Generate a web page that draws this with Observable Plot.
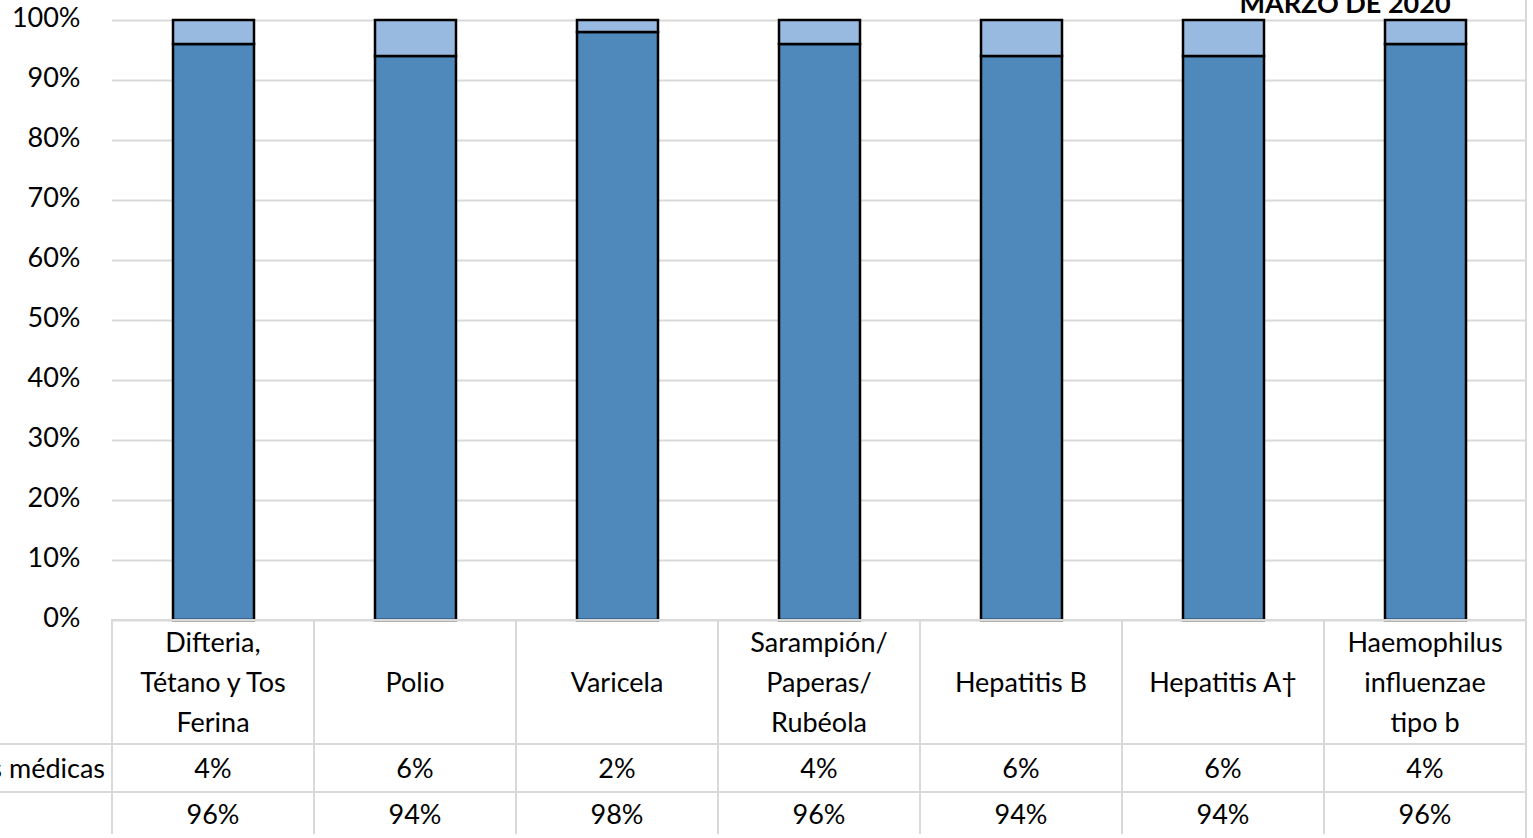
<!DOCTYPE html>
<html>
<head>
<meta charset="utf-8">
<script src="https://cdn.jsdelivr.net/npm/d3@7"></script>
<script src="https://cdn.jsdelivr.net/npm/@observablehq/plot@0.6"></script>
<style>
  html, body { margin: 0; padding: 0; background: #fff; }
  #wrap { position: relative; width: 1533px; height: 838px; overflow: hidden; font-family: Lato, "Liberation Sans", sans-serif; color: #000; }
  #title { position: absolute; left: 1145px; width: 400px; top: -11px; text-align: center; font-weight: bold; font-size: 27px; line-height: 27px; }
  #rborder { position: absolute; left: 1525px; top: 0; width: 2px; height: 838px; background: #d9d9d9; }
  table.dt { position: absolute; left: 0; top: 619px; border-collapse: collapse; table-layout: fixed; width: 1527px; font-size: 27px; }
  table.dt td { border: 2px solid #d9d9d9; text-align: center; vertical-align: middle; padding: 0; white-space: pre-line; line-height: 40px; }
  table.dt td.lab { border-left: none; overflow: hidden; white-space: nowrap; }
  table.dt td.lab div { display: flex; justify-content: flex-end; padding-right: 6px; }
  table.dt tr.r0 td.lab { border-top: none; }
  table.dt tr.r2 td { border-bottom: none; }
</style>
</head>
<body>
<div id="wrap">
  <div id="chart"></div>
  <div id="title"></div>
  <div id="rborder"></div>
</div>
<script>
const categories = ["Difteria,\nTétano y Tos\nFerina", "Polio", "Varicela", "Sarampión/\nPaperas/\nRubéola", "Hepatitis B", "Hepatitis A†", "Haemophilus\ninfluenzae\ntipo b"];
const seriesNames = ["Vacunados", "Exenciones médicas"];
const vacunados = [0.96, 0.94, 0.98, 0.96, 0.94, 0.94, 0.96];
const exenciones = [0.04, 0.06, 0.02, 0.04, 0.06, 0.06, 0.04];
const seriesColors = ["#4f88bb", "#98b9e0"];
const yTicks = [0, 0.1, 0.2, 0.3, 0.4, 0.5, 0.6, 0.7, 0.8, 0.9, 1];
const titleText = "MARZO DE 2020";
const rowLabels = ["Exenciones médicas", ""];
const rowValues = [exenciones, vacunados];

const rows = categories.flatMap((c, i) => [
  {cat: c, series: seriesNames[0], value: vacunados[i]},
  {cat: c, series: seriesNames[1], value: exenciones[i]}
]);

const chart = Plot.plot({
  width: 1533,
  height: 838,
  marginLeft: 112,
  marginRight: 7,
  marginTop: 20,
  marginBottom: 218,
  style: {fontFamily: "Lato, 'Liberation Sans', sans-serif", fontSize: "27px", color: "#000", background: "transparent", overflow: "visible"},
  x: {domain: categories, paddingInner: 0.6, paddingOuter: 0.3, axis: null},
  y: {domain: [0, 1], ticks: yTicks, tickFormat: d3.format(".0%"), label: null},
  color: {domain: seriesNames, range: seriesColors},
  marks: [
    Plot.ruleY(yTicks, {stroke: "#d9d9d9", strokeWidth: 2}),
    Plot.axisY({ticks: yTicks, tickFormat: d3.format(".0%"), tickSize: 0, tickPadding: 32, label: null, dy: -2, fontSize: 27}),
    Plot.barY(rows, {x: "cat", y: "value", fill: "series", stroke: "#000", strokeWidth: 2.5})
  ]
});
document.getElementById("chart").appendChild(chart);
document.getElementById("title").textContent = titleText;

// data table below the plot
const table = document.createElement("table");
table.className = "dt";
const colgroup = document.createElement("colgroup");
[112, ...categories.map(() => 202)].forEach(w => {
  const col = document.createElement("col");
  col.style.width = w + "px";
  colgroup.appendChild(col);
});
table.appendChild(colgroup);
const heights = [124, 48, 42];
const fmt = d3.format(".0%");
[["", ...categories], [rowLabels[0], ...rowValues[0].map(fmt)], [rowLabels[1], ...rowValues[1].map(fmt)]].forEach((r, ri) => {
  const tr = document.createElement("tr");
  tr.className = "r" + ri;
  tr.style.height = heights[ri] + "px";
  r.forEach((v, ci) => {
    const td = document.createElement("td");
    if (ci === 0) {
      td.className = "lab";
      const d = document.createElement("div");
      d.textContent = v;
      td.appendChild(d);
    } else {
      td.textContent = v;
    }
    tr.appendChild(td);
  });
  table.appendChild(tr);
});
document.getElementById("wrap").appendChild(table);
</script>
</body>
</html>
